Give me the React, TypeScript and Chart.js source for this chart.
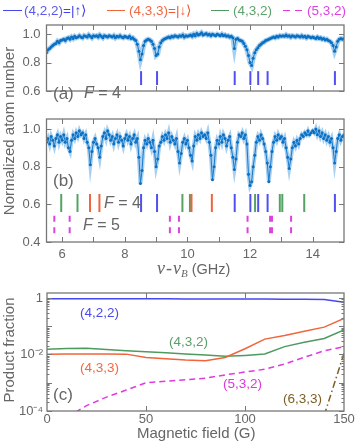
import React, { useEffect, useRef } from "react";
import { Chart, registerables } from "chart.js";

Chart.register(...registerables);

// ---------- spectra (panels a, b) ----------
const FREQ = [
  5.5, 5.55, 5.6, 5.65, 5.7, 5.75, 5.8, 5.85, 5.9, 5.95,
  6, 6.05, 6.1, 6.15, 6.2, 6.25, 6.3, 6.35, 6.4, 6.45,
  6.5, 6.55, 6.6, 6.65, 6.7, 6.75, 6.8, 6.85, 6.9, 6.95,
  7, 7.05, 7.1, 7.15, 7.2, 7.25, 7.3, 7.35, 7.4, 7.45,
  7.5, 7.55, 7.6, 7.65, 7.7, 7.75, 7.8, 7.85, 7.9, 7.95,
  8, 8.05, 8.1, 8.15, 8.2, 8.25, 8.3, 8.35, 8.4, 8.45,
  8.5, 8.55, 8.6, 8.65, 8.7, 8.75, 8.8, 8.85, 8.9, 8.95,
  9, 9.05, 9.1, 9.15, 9.2, 9.25, 9.3, 9.35, 9.4, 9.45,
  9.5, 9.55, 9.6, 9.65, 9.7, 9.75, 9.8, 9.85, 9.9, 9.95,
  10, 10.05, 10.1, 10.15, 10.2, 10.25, 10.3, 10.35, 10.4, 10.45,
  10.5, 10.55, 10.6, 10.65, 10.7, 10.75, 10.8, 10.85, 10.9, 10.95,
  11, 11.05, 11.1, 11.15, 11.2, 11.25, 11.3, 11.35, 11.4, 11.45,
  11.5, 11.55, 11.6, 11.65, 11.7, 11.75, 11.8, 11.85, 11.9, 11.95,
  12, 12.05, 12.1, 12.15, 12.2, 12.25, 12.3, 12.35, 12.4, 12.45,
  12.5, 12.55, 12.6, 12.65, 12.7, 12.75, 12.8, 12.85, 12.9, 12.95,
  13, 13.05, 13.1, 13.15, 13.2, 13.25, 13.3, 13.35, 13.4, 13.45,
  13.5, 13.55, 13.6, 13.65, 13.7, 13.75, 13.8, 13.85, 13.9, 13.95,
  14, 14.05, 14.1, 14.15, 14.2, 14.25, 14.3, 14.35, 14.4, 14.45,
  14.5, 14.55, 14.6, 14.65, 14.7, 14.75, 14.8, 14.85, 14.9, 14.95,
  15,
];

const ATOMS_A = [
  0.87, 0.89, 0.9, 0.91, 0.92, 0.93, 0.935, 0.95, 0.94, 0.955, 0.96,
  0.965, 0.955, 0.97, 0.975, 0.965, 0.98, 0.97, 0.985, 0.975, 0.98,
  0.99, 0.98, 0.975, 0.99, 0.985, 0.98, 0.995, 0.985, 0.975, 0.99,
  0.985, 0.99, 0.98, 0.995, 0.985, 0.975, 0.99, 0.985, 0.98, 0.99,
  0.985, 0.98, 0.99, 0.975, 0.985, 0.98, 0.99, 0.98, 0.975, 0.985,
  0.98, 0.975, 0.985, 0.97, 0.975, 0.965, 0.955, 0.93, 0.88, 0.82,
  0.86, 0.92, 0.95, 0.96, 0.965, 0.96, 0.95, 0.93, 0.9, 0.85,
  0.86, 0.91, 0.94, 0.955, 0.965, 0.97, 0.975, 0.98, 0.975, 0.985,
  0.98, 0.99, 0.985, 0.98, 0.99, 0.985, 0.995, 0.98, 0.99, 0.985,
  0.99, 0.995, 0.985, 1.0, 0.99, 1.005, 0.995, 1.0, 1.01, 0.995,
  1.0, 1.005, 0.995, 1.0, 0.99, 1.0, 0.995, 0.99, 1.0, 0.995,
  0.99, 1.0, 0.99, 0.995, 0.985, 0.99, 0.98, 0.985, 0.975, 0.9,
  0.965, 0.97, 0.96, 0.955, 0.95, 0.935, 0.915, 0.89, 0.85, 0.8,
  0.78, 0.83, 0.87, 0.89, 0.905, 0.92, 0.93, 0.94, 0.945, 0.955,
  0.96, 0.965, 0.97, 0.975, 0.98, 0.975, 0.985, 0.98, 0.99, 0.985,
  0.99, 0.985, 0.995, 0.985, 0.99, 0.98, 0.99, 0.985, 0.98, 0.99,
  0.985, 0.98, 0.99, 0.98, 0.985, 0.975, 0.985, 0.98, 0.975, 0.98,
  0.975, 0.97, 0.98, 0.97, 0.975, 0.965, 0.97, 0.96, 0.965, 0.955,
  0.95, 0.94, 0.92, 0.88, 0.91, 0.95, 0.965, 0.97, 0.965, 0.97,
];

const ATOMS_B = [
  0.93, 0.95, 0.92, 0.96, 0.94, 0.91, 0.95, 0.97, 0.93, 0.96, 0.94,
  0.97, 0.93, 0.95, 0.9, 0.88, 0.94, 0.97, 0.95, 0.98, 0.96,
  0.99, 0.97, 0.98, 0.95, 0.97, 0.93, 0.9, 0.81, 0.88, 0.93,
  0.95, 0.92, 0.9, 0.85, 0.91, 0.96, 0.98, 0.95, 0.99, 0.97,
  0.94, 0.96, 0.92, 0.95, 0.97, 0.93, 0.96, 0.94, 0.91, 0.95,
  0.97, 0.94, 0.96, 0.92, 0.95, 0.97, 0.93, 0.95, 0.85, 0.71,
  0.78, 0.9, 0.94, 0.92, 0.95, 0.93, 0.9, 0.94, 0.88, 0.8,
  0.84, 0.91, 0.93, 0.96, 0.94, 0.97, 0.95, 0.98, 0.93, 0.96,
  0.94, 0.92, 0.95, 0.88, 0.82, 0.87, 0.93, 0.95, 0.92, 0.94,
  0.9, 0.86, 0.83, 0.91, 0.96, 0.94, 0.97, 0.95, 0.98, 0.96,
  0.97, 0.95, 0.98, 0.93, 0.86, 0.73, 0.8, 0.9, 0.94, 0.92,
  0.96, 0.93, 0.97, 0.95, 0.91, 0.94, 0.96, 0.9, 0.85, 0.785,
  0.84, 0.93, 0.97, 0.96, 0.98, 0.95, 0.97, 0.92, 0.76, 0.7,
  0.72, 0.8, 0.86, 0.93, 0.96, 0.94, 0.97, 0.95, 0.92, 0.88,
  0.82, 0.72, 0.8, 0.88, 0.93, 0.96, 0.94, 0.97, 0.95, 0.96,
  0.93, 0.95, 0.9, 0.85, 0.79, 0.84, 0.9, 0.93, 0.91, 0.94,
  0.92, 0.95, 0.97, 0.96, 0.98, 0.97, 0.99, 0.97, 0.98, 0.99,
  0.98, 1.0, 0.97, 0.99, 0.96, 0.98, 0.95, 0.97, 0.94, 0.96,
  0.93, 0.95, 0.9, 0.82, 0.88, 0.95, 0.97, 0.94, 0.96, 0.97,
];

// resonance positions (GHz)
const LINES_422 = [8.52, 9.03, 11.51, 12.01, 12.26, 12.56, 14.71];
const LINES_433 = [6.89, 7.19, 10.13, 10.78];
const LINES_432 = [5.97, 6.49, 9.84, 10.08, 12.16, 12.95, 13.03, 13.73];
const LINES_532 = [5.75, 6.24, 9.44, 9.73, 11.92, 12.64, 12.7, 13.31];

const SPEC_TICK_MARKS = [6, 7, 8, 9, 10, 11, 12, 13, 14];
const SPEC_TICK_LABELS = [6, 8, 10, 12, 14];
const Y_TICKS_A = [0.6, 0.8, 1.0];
const Y_TICKS_B = [0.4, 0.6, 0.8, 1.0];

// ---------- product fractions (panel c) ----------
const FIELD = [0, 10, 20, 30, 40, 50, 60, 70, 80, 90, 100, 110, 120, 130, 140, 150];
const FRAC_422 = [0.93, 0.93, 0.93, 0.93, 0.93, 0.93, 0.93, 0.925, 0.925, 0.925, 0.925, 0.92, 0.91, 0.9, 0.88, 0.7];
const FRAC_433 = [0.0102, 0.0104, 0.0105, 0.0105, 0.0103, 0.0079, 0.0071, 0.0064, 0.006, 0.0078, 0.016, 0.035, 0.047, 0.066, 0.093, 0.19];
const FRAC_432 = [0.0153, 0.0162, 0.0165, 0.015, 0.0135, 0.0125, 0.0115, 0.0105, 0.0095, 0.0086, 0.0093, 0.0104, 0.019, 0.027, 0.037, 0.074];
const FRAC_532 = [null, 0.00006, 0.000155, 0.00031, 0.00055, 0.001, 0.00113, 0.00128, 0.00145, 0.0019, 0.0024, 0.003, 0.0046, 0.008, 0.0135, 0.019];
const FRAC_633 = [null, null, null, null, null, null, null, null, null, null, null, null, null, null, 0.00007, 0.011];

const FIELD_TICKS = [0, 50, 100, 150];
const LOG_TICK_VALUES = [1e-4, 1e-2, 1];
const LOG_TICK_LABELS = ["10\u207B\u2074", "10\u207B\u00B2", "1"];
const LOG_DECADES = [1e-4, 1e-3, 1e-2, 1e-1, 1];

// ---------- styling ----------
const FONT = "'Liberation Sans', Arial, Helvetica, sans-serif";
const TXT = "#666";
const AXIS = "#777";
const C_BLUE = "#4646f2";
const C_RED = "#f2643a";
const C_GREEN = "#4f9a5e";
const C_MAG = "#e03ae0";
const C_BROWN = "#7d5f25";

const deco = {
  id: "deco",
  afterDatasetsDraw(chart: any, _args: any, opts: any) {
    const { ctx, chartArea: a, scales } = chart;
    const xs = scales.x;
    const ys = scales.y;
    ctx.save();
    // resonance markers
    (opts.markers || []).forEach((m: any) => {
      ctx.strokeStyle = m.color;
      ctx.lineWidth = 2;
      ctx.setLineDash(m.dash || []);
      m.xs.forEach((v: number) => {
        const px = xs.getPixelForValue(v);
        ctx.beginPath();
        ctx.moveTo(px, ys.getPixelForValue(m.y1));
        ctx.lineTo(px, ys.getPixelForValue(m.y0));
        ctx.stroke();
      });
    });
    ctx.setLineDash([]);
    ctx.strokeStyle = AXIS;
    ctx.lineWidth = 1;
    const seg = (x0: number, y0: number, x1: number, y1: number) => {
      ctx.beginPath();
      ctx.moveTo(x0, y0);
      ctx.lineTo(x1, y1);
      ctx.stroke();
    };
    (opts.xTicks || []).forEach((v: number) => {
      const px = Math.round(xs.getPixelForValue(v)) + 0.5;
      seg(px, a.top, px, a.top + 5);
      seg(px, a.bottom, px, a.bottom - 5);
    });
    (opts.yTicks || []).forEach((v: number) => {
      const py = Math.round(ys.getPixelForValue(v)) + 0.5;
      seg(a.left, py, a.left + 5, py);
      seg(a.right, py, a.right - 5, py);
    });
    (opts.yMinor || []).forEach((v: number) => {
      const py = Math.round(ys.getPixelForValue(v)) + 0.5;
      seg(a.left, py, a.left + 2.5, py);
      seg(a.right, py, a.right - 2.5, py);
    });
    ctx.lineWidth = 1.3;
    ctx.strokeRect(a.left, a.top, a.right - a.left, a.bottom - a.top);
    ctx.restore();
  },
};

const tickFont = { family: FONT, size: 13 };

function spectrumConfig(vals: number[], o: any): any {
  const pts = FREQ.map((x, i) => ({ x, y: vals[i] }));
  return {
    type: "line",
    data: {
      datasets: [
        {
          data: pts,
          borderColor: "#1a7acb",
          borderWidth: 1,
          pointRadius: 1.5,
          pointBorderWidth: 0,
          pointBackgroundColor: "#0b70c2",
          tension: 0,
          order: 1,
        },
        {
          data: pts,
          borderColor: "rgba(95,168,228,0.55)",
          borderWidth: o.band,
          pointRadius: 0,
          tension: 0,
          order: 2,
        },
      ],
    },
    options: {
      responsive: false,
      animation: false,
      events: [],
      layout: { padding: { top: o.top, bottom: o.bottom, left: 0, right: 13 } },
      plugins: {
        legend: { display: false },
        tooltip: { enabled: false },
        deco: { markers: o.markers, xTicks: SPEC_TICK_MARKS, yTicks: o.yTicks },
      },
      scales: {
        x: {
          type: "linear",
          min: 5.5,
          max: 15,
          display: o.showX,
          grid: { display: false, drawTicks: false },
          border: { display: false },
          ticks: { color: TXT, font: tickFont, padding: 5, maxRotation: 0, autoSkip: false },
          afterBuildTicks: (s: any) => {
            s.ticks = SPEC_TICK_LABELS.map((v) => ({ value: v }));
          },
          afterFit: (s: any) => {
            s.height = 20;
          },
        },
        y: {
          type: "linear",
          min: o.min,
          max: o.max,
          grid: { display: false, drawTicks: false },
          border: { display: false },
          ticks: {
            color: TXT,
            font: tickFont,
            padding: 6,
            autoSkip: false,
            callback: (v: any) => Number(v).toFixed(1),
          },
          afterBuildTicks: (s: any) => {
            s.ticks = o.yTicks.map((v: number) => ({ value: v }));
          },
          afterFit: (s: any) => {
            s.width = 46.5;
          },
        },
      },
    },
    plugins: [deco],
  };
}

function fieldConfig(): any {
  const ser = (arr: (number | null)[]) => FIELD.map((x, i) => ({ x, y: arr[i] }));
  const base = { pointRadius: 0, borderWidth: 1.5, tension: 0, fill: false };
  const minors: number[] = [];
  LOG_DECADES.slice(0, 4).forEach((d) => {
    [2, 3, 4, 5, 6, 7, 8, 9].forEach((m) => minors.push(d * m));
  });
  return {
    type: "line",
    data: {
      datasets: [
        { ...base, data: ser(FRAC_422), borderColor: C_BLUE },
        { ...base, data: ser(FRAC_433), borderColor: C_RED },
        { ...base, data: ser(FRAC_432), borderColor: C_GREEN },
        { ...base, data: ser(FRAC_532), borderColor: C_MAG, borderDash: [6, 4] },
        { ...base, data: ser(FRAC_633), borderColor: C_BROWN, borderDash: [7, 3, 1.5, 3] },
      ],
    },
    options: {
      responsive: false,
      animation: false,
      events: [],
      layout: { padding: { top: 293, bottom: 17, left: 0, right: 13 } },
      plugins: {
        legend: { display: false },
        tooltip: { enabled: false },
        deco: { xTicks: [50, 100], yTicks: LOG_DECADES, yMinor: minors },
      },
      scales: {
        x: {
          type: "linear",
          min: 0,
          max: 150,
          grid: { display: false, drawTicks: false },
          border: { display: false },
          ticks: { color: TXT, font: tickFont, padding: 1, maxRotation: 0, autoSkip: false },
          afterBuildTicks: (s: any) => {
            s.ticks = FIELD_TICKS.map((v) => ({ value: v }));
          },
          afterFit: (s: any) => {
            s.height = 20;
          },
        },
        y: {
          type: "logarithmic",
          min: 1e-4,
          max: 1.5,
          grid: { display: false, drawTicks: false },
          border: { display: false },
          ticks: {
            color: TXT,
            font: tickFont,
            padding: 4,
            autoSkip: false,
            callback: (_v: any, i: number) => LOG_TICK_LABELS[i],
          },
          afterBuildTicks: (s: any) => {
            s.ticks = LOG_TICK_VALUES.map((v) => ({ value: v }));
          },
          afterFit: (s: any) => {
            s.width = 47;
          },
        },
      },
    },
    plugins: [deco],
  };
}

const abs = (x: number, cy: number, extra: any = {}): any => ({
  position: "absolute",
  left: x,
  top: cy,
  transform: "translateY(-50%)",
  whiteSpace: "nowrap",
  lineHeight: 1,
  ...extra,
});

function LegendLine({ x, w, color }: { x: number; w: number; color: string }) {
  return (
    <div
      style={{ position: "absolute", left: x, top: 10.25, width: w, height: 0, borderTop: `1.5px solid ${color}` }}
    />
  );
}

export default function App() {
  const refA = useRef<HTMLCanvasElement>(null);
  const refB = useRef<HTMLCanvasElement>(null);
  const refC = useRef<HTMLCanvasElement>(null);

  useEffect(() => {
    const charts = [
      new Chart(
        refA.current!,
        spectrumConfig(ATOMS_A, {
          top: 25,
          bottom: 337,
          min: 0.6,
          max: 1.065,
          showX: false,
          band: 5,
          yTicks: Y_TICKS_A,
          markers: [{ xs: LINES_422, y0: 0.642, y1: 0.74, color: "#5050f0" }],
        })
      ),
      new Chart(
        refB.current!,
        spectrumConfig(ATOMS_B, {
          top: 119,
          bottom: 186,
          min: 0.4,
          max: 1.053,
          showX: true,
          band: 4,
          yTicks: Y_TICKS_B,
          markers: [
            { xs: LINES_432, y0: 0.559, y1: 0.655, color: "#55a265" },
            { xs: LINES_433, y0: 0.559, y1: 0.655, color: "#f0643c" },
            { xs: LINES_422, y0: 0.559, y1: 0.655, color: "#5050f0" },
            { xs: LINES_532, y0: 0.446, y1: 0.54, color: "#e040e0", dash: [6, 5.6] },
          ],
        })
      ),
      new Chart(refC.current!, fieldConfig()),
    ];
    return () => charts.forEach((c) => c.destroy());
  }, []);

  const cv: any = { position: "absolute", left: 0, top: 0 };
  const serif = "'Liberation Serif', 'DejaVu Serif', serif";

  return (
    <div
      style={{
        position: "absolute",
        left: 0,
        top: 0,
        width: 357,
        height: 448,
        overflow: "hidden",
        background: "#fff",
        fontFamily: FONT,
        color: TXT,
      }}
    >
      <canvas ref={refA} width={357} height={448} style={cv} />
      <canvas ref={refB} width={357} height={448} style={cv} />
      <canvas ref={refC} width={357} height={448} style={cv} />

      {/* legend */}
      <LegendLine x={3} w={19} color={C_BLUE} />
      <div style={abs(24, 11, { fontSize: 13.5, color: "#5a5af0" })}>
        (4,2,2)<span style={{ color: "#4040f0" }}>=|↑⟩</span>
      </div>
      <LegendLine x={107} w={18} color={C_RED} />
      <div style={abs(129, 11, { fontSize: 13.5, color: "#f06a45" })}>
        (4,3,3)<span style={{ color: "#f05a35" }}>=|↓⟩</span>
      </div>
      <LegendLine x={211} w={18} color={C_GREEN} />
      <div style={abs(233, 11, { fontSize: 13.5, color: "#5ea26c" })}>(4,3,2)</div>
      <LegendLine x={283} w={7} color={C_MAG} />
      <LegendLine x={295} w={7} color={C_MAG} />
      <div style={abs(307, 11, { fontSize: 13.5, color: "#e040e0" })}>(5,3,2)</div>

      {/* panel a/b annotations */}
      <div style={abs(53, 93, { fontSize: 17 })}>(a)</div>
      <div style={abs(84, 93, { fontSize: 16 })}>
        <i>F</i> = 4
      </div>
      <div style={abs(53, 180, { fontSize: 17 })}>(b)</div>
      <div style={abs(104, 203, { fontSize: 16 })}>
        <i>F</i> = 4
      </div>
      <div style={abs(83, 225, { fontSize: 16 })}>
        <i>F</i> = 5
      </div>

      {/* axis titles */}
      <div style={abs(157, 269, { fontSize: 14.5 })}>
        <span style={{ fontFamily: serif, fontStyle: "italic", fontSize: 18 }}>
          ν<span style={{ margin: "0 1px" }}>-</span>ν
          <sub style={{ fontSize: 11, verticalAlign: "-3px" }}>B</sub>
        </span>{" "}
        (GHz)
      </div>
      <div style={abs(137, 431.5, { fontSize: 15 })}>Magnetic field (G)</div>
      <div
        style={{
          position: "absolute",
          left: 8,
          top: 131,
          transform: "translate(-50%,-50%) rotate(-90deg)",
          whiteSpace: "nowrap",
          fontSize: 15,
          lineHeight: 1,
        }}
      >
        Normalized atom number
      </div>
      <div
        style={{
          position: "absolute",
          left: 8,
          top: 350,
          transform: "translate(-50%,-50%) rotate(-90deg)",
          whiteSpace: "nowrap",
          fontSize: 15,
          lineHeight: 1,
        }}
      >
        Product fraction
      </div>

      {/* panel c annotations */}
      <div style={abs(53, 394, { fontSize: 17 })}>(c)</div>
      <div style={abs(80, 312.5, { fontSize: 13.5, color: "#4a4af0" })}>(4,2,2)</div>
      <div style={abs(169, 341.5, { fontSize: 13.5, color: "#5a9e68" })}>(4,3,2)</div>
      <div style={abs(80, 367.5, { fontSize: 13.5, color: "#f06a40" })}>(4,3,3)</div>
      <div style={abs(223, 384, { fontSize: 13.5, color: "#d93ad9" })}>(5,3,2)</div>
      <div style={abs(283, 399, { fontSize: 13.5, color: C_BROWN })}>(6,3,3)</div>
    </div>
  );
}
